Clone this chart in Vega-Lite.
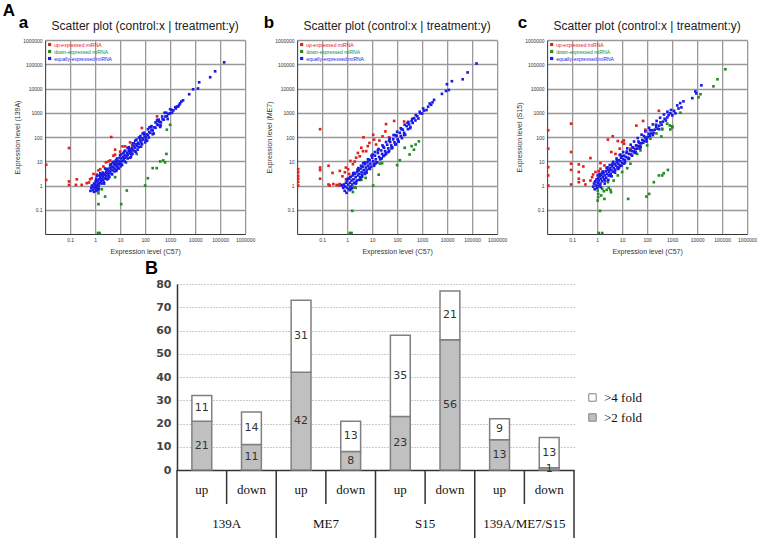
{
  "$schema": "https://vega.github.io/schema/vega-lite/v6.json",
  "padding": {"left": 2, "top": 2, "right": 0, "bottom": 2},
  "background": "white",
  "config": {"view": {"stroke": null}, "font": "Liberation Sans"},
  "datasets": {
    "a": [
      {"s":"u","x":0.011,"y":7.2},{"s":"u","x":0.011,"y":1.7},{"s":"u","x":0.09,"y":35},{"s":"u","x":0.09,"y":1.47},{"s":"u","x":0.09,"y":1.05},{"s":"u","x":0.185,"y":1.8},{"s":"u","x":0.17,"y":1.06},{"s":"u","x":0.29,"y":1.06},{"s":"u","x":0.46,"y":1.25},{"s":"u","x":0.57,"y":1.33},{"s":"u","x":0.73,"y":2.0},{"s":"u","x":0.86,"y":3.0},{"s":"u","x":0.63,"y":1.8},{"s":"u","x":1.36,"y":4.2},{"s":"u","x":1.6,"y":4.7},{"s":"u","x":4.4,"y":100},{"s":"u","x":2.7,"y":9},{"s":"u","x":3.4,"y":9.8},{"s":"u","x":4.0,"y":10.8},{"s":"u","x":5.4,"y":17},{"s":"u","x":6.3,"y":30},{"s":"u","x":12.4,"y":41},{"s":"u","x":15.8,"y":41},{"s":"u","x":25,"y":60},{"s":"u","x":74,"y":235},{"s":"u","x":30,"y":45},{"s":"u","x":300,"y":710},{"s":"u","x":10,"y":25},{"s":"u","x":6.3,"y":18.6},{"s":"u","x":2.15,"y":6.1},{"s":"u","x":1.17,"y":2.8},
      {"s":"d","x":1.1,"y":0.78},{"s":"d","x":1.36,"y":0.62},{"s":"d","x":1.85,"y":0.7},{"s":"d","x":1.36,"y":0.48},{"s":"d","x":2.5,"y":0.35},{"s":"d","x":1.36,"y":0.17},{"s":"d","x":11,"y":0.17},{"s":"d","x":18.5,"y":0.62},{"s":"d","x":6.3,"y":2.2},{"s":"d","x":46,"y":20},{"s":"d","x":128,"y":2.0},{"s":"d","x":200,"y":5.2},{"s":"d","x":290,"y":5.2},{"s":"d","x":400,"y":9.8},{"s":"d","x":530,"y":10.8},{"s":"d","x":630,"y":9},{"s":"d","x":710,"y":20},{"s":"d","x":740,"y":200},{"s":"d","x":1000,"y":320},{"s":"d","x":100,"y":1.0},{"s":"d","x":1.3,"y":0.011},{"s":"d","x":1.5,"y":0.011},
      {"s":"e","x":0.65,"y":0.6},{"s":"e","x":0.7,"y":0.8},{"s":"e","x":0.75,"y":1.0},{"s":"e","x":0.8,"y":0.65},{"s":"e","x":0.85,"y":0.9},{"s":"e","x":0.9,"y":1.2},{"s":"e","x":0.95,"y":0.75},{"s":"e","x":1.0,"y":1.1},{"s":"e","x":1.05,"y":0.85},{"s":"e","x":1.1,"y":1.4},{"s":"e","x":1.15,"y":1.0},{"s":"e","x":1.2,"y":0.9},{"s":"e","x":1.25,"y":1.6},{"s":"e","x":1.3,"y":1.2},{"s":"e","x":1.4,"y":1.0},{"s":"e","x":1.45,"y":1.8},{"s":"e","x":1.5,"y":1.3},{"s":"e","x":1.6,"y":2.2},{"s":"e","x":1.7,"y":1.5},{"s":"e","x":1.8,"y":1.9},{"s":"e","x":1.9,"y":2.6},{"s":"e","x":2.0,"y":1.7},{"s":"e","x":2.1,"y":2.3},{"s":"e","x":2.2,"y":3.0},{"s":"e","x":2.4,"y":2.0},{"s":"e","x":2.5,"y":2.8},{"s":"e","x":2.7,"y":3.5},{"s":"e","x":2.8,"y":2.4},{"s":"e","x":3.0,"y":3.2},{"s":"e","x":3.2,"y":4.3},{"s":"e","x":3.4,"y":2.9},{"s":"e","x":3.6,"y":3.8},{"s":"e","x":3.8,"y":5.2},{"s":"e","x":4.0,"y":3.5},{"s":"e","x":4.3,"y":4.6},{"s":"e","x":4.6,"y":6.0},{"s":"e","x":5.0,"y":4.2},{"s":"e","x":5.3,"y":5.6},{"s":"e","x":5.6,"y":7.4},{"s":"e","x":6.0,"y":5.0},{"s":"e","x":6.5,"y":6.8},{"s":"e","x":7.0,"y":8.8},{"s":"e","x":7.5,"y":6.2},{"s":"e","x":8.0,"y":8.0},{"s":"e","x":8.5,"y":10.5},{"s":"e","x":9.0,"y":7.5},{"s":"e","x":10,"y":9.5},{"s":"e","x":11,"y":13},{"s":"e","x":12,"y":10},{"s":"e","x":13,"y":15},{"s":"e","x":14,"y":12},{"s":"e","x":15,"y":18},{"s":"e","x":16,"y":14},{"s":"e","x":18,"y":16},{"s":"e","x":19,"y":22},{"s":"e","x":20,"y":18},{"s":"e","x":22,"y":26},{"s":"e","x":24,"y":21},{"s":"e","x":26,"y":30},{"s":"e","x":28,"y":25},{"s":"e","x":30,"y":35},{"s":"e","x":33,"y":29},{"s":"e","x":36,"y":42},{"s":"e","x":40,"y":36},{"s":"e","x":44,"y":50},{"s":"e","x":48,"y":44},{"s":"e","x":52,"y":58},{"s":"e","x":58,"y":52},{"s":"e","x":64,"y":72},{"s":"e","x":70,"y":64},{"s":"e","x":78,"y":88},{"s":"e","x":85,"y":78},{"s":"e","x":95,"y":105},{"s":"e","x":105,"y":96},{"s":"e","x":115,"y":128},{"s":"e","x":130,"y":118},{"s":"e","x":145,"y":160},{"s":"e","x":160,"y":150},{"s":"e","x":180,"y":200},{"s":"e","x":200,"y":185},{"s":"e","x":230,"y":250},{"s":"e","x":260,"y":240},{"s":"e","x":300,"y":330},{"s":"e","x":340,"y":310},{"s":"e","x":380,"y":420},{"s":"e","x":430,"y":400},{"s":"e","x":500,"y":540},{"s":"e","x":560,"y":520},{"s":"e","x":650,"y":700},{"s":"e","x":750,"y":720},{"s":"e","x":850,"y":900},{"s":"e","x":1000,"y":950},{"s":"e","x":1150,"y":1300},{"s":"e","x":1350,"y":1250},{"s":"e","x":1600,"y":1700},{"s":"e","x":1900,"y":1800},{"s":"e","x":2100,"y":1800},{"s":"e","x":2500,"y":2450},{"s":"e","x":3300,"y":3240},{"s":"e","x":5800,"y":5800},{"s":"e","x":8300,"y":9300},{"s":"e","x":13000,"y":10000},{"s":"e","x":14500,"y":18000},{"s":"e","x":40000,"y":29000},{"s":"e","x":63000,"y":51000},{"s":"e","x":145000,"y":120000},{"s":"e","x":1.2,"y":2.5},{"s":"e","x":1.6,"y":3.2},{"s":"e","x":2.5,"y":5},{"s":"e","x":3,"y":1.8},{"s":"e","x":5,"y":9},{"s":"e","x":7,"y":4},{"s":"e","x":10,"y":18},{"s":"e","x":12,"y":7},{"s":"e","x":20,"y":35},{"s":"e","x":25,"y":14},{"s":"e","x":40,"y":70},{"s":"e","x":50,"y":30},{"s":"e","x":80,"y":140},{"s":"e","x":100,"y":60},{"s":"e","x":150,"y":250},{"s":"e","x":200,"y":130},{"s":"e","x":300,"y":500},{"s":"e","x":400,"y":260},{"s":"e","x":600,"y":1000},{"s":"e","x":800,"y":550},{"s":"e","x":0.9,"y":0.55},{"s":"e","x":1.1,"y":0.6},
      {"s":"e","x":1.3,"y":0.7},{"s":"e","x":1.8,"y":1.2},{"s":"e","x":2.2,"y":1.4},{"s":"e","x":2.6,"y":1.9},{"s":"e","x":3.5,"y":2.4},{"s":"e","x":4.5,"y":3.0},{"s":"e","x":6,"y":3.8},{"s":"e","x":8,"y":5.5},{"s":"e","x":11,"y":7.5},{"s":"e","x":15,"y":10},{"s":"e","x":20,"y":13},{"s":"e","x":28,"y":19},{"s":"e","x":38,"y":26},{"s":"e","x":55,"y":38},{"s":"e","x":75,"y":50},{"s":"e","x":110,"y":75},{"s":"e","x":1.5,"y":2.6},{"s":"e","x":2.0,"y":3.4},{"s":"e","x":2.8,"y":4.6},{"s":"e","x":4,"y":6.8},{"s":"e","x":5.5,"y":9.5},{"s":"e","x":7.5,"y":13},{"s":"e","x":11,"y":19},{"s":"e","x":15,"y":26},{"s":"e","x":22,"y":38},{"s":"e","x":32,"y":55},{"s":"e","x":45,"y":78},{"s":"e","x":65,"y":110},{"s":"e","x":90,"y":150},{"s":"e","x":130,"y":210},{"s":"e","x":180,"y":280},{"s":"e","x":260,"y":400},{"s":"e","x":350,"y":520},{"s":"e","x":480,"y":700},{"s":"e","x":700,"y":1000},{"s":"e","x":1000,"y":1400},{"s":"e","x":1200,"y":1000},{"s":"e","x":1700,"y":1500},{"s":"e","x":2300,"y":2100},{"s":"e","x":2800,"y":2900},
      {"s":"e","x":1.1,"y":1.9},{"s":"e","x":1.4,"y":0.75},{"s":"e","x":1.7,"y":2.8},{"s":"e","x":2.3,"y":1.2},{"s":"e","x":2.9,"y":4.8},{"s":"e","x":3.3,"y":1.9},{"s":"e","x":4.2,"y":7.5},{"s":"e","x":4.8,"y":2.9},{"s":"e","x":6.8,"y":11},{"s":"e","x":7.2,"y":4.4},{"s":"e","x":9.5,"y":14},{"s":"e","x":10.5,"y":6.2},{"s":"e","x":13.5,"y":22},{"s":"e","x":17,"y":9},{"s":"e","x":23,"y":33},{"s":"e","x":27,"y":15},{"s":"e","x":35,"y":55},{"s":"e","x":42,"y":24},{"s":"e","x":60,"y":90},{"s":"e","x":68,"y":40},{"s":"e","x":90,"y":130},{"s":"e","x":120,"y":70},{"s":"e","x":170,"y":260},{"s":"e","x":220,"y":140},{"s":"e","x":320,"y":450},{"s":"e","x":420,"y":300},{"s":"e","x":1.05,"y":1.5},{"s":"e","x":1.25,"y":0.7},{"s":"e","x":2.05,"y":2.9},{"s":"e","x":3.7,"y":2.2},{"s":"e","x":5.8,"y":8.5},{"s":"e","x":8.8,"y":5.0},{"s":"e","x":16,"y":27},{"s":"e","x":31,"y":20},{"s":"e","x":57,"y":95},{"s":"e","x":140,"y":95}
    ],
    "b": [
      {"s":"u","x":0.011,"y":4.7},{"s":"u","x":0.011,"y":3.5},{"s":"u","x":0.011,"y":2.5},{"s":"u","x":0.011,"y":1.9},{"s":"u","x":0.011,"y":1.4},{"s":"u","x":0.011,"y":1.0},{"s":"u","x":0.083,"y":210},{"s":"u","x":0.083,"y":5.5},{"s":"u","x":0.083,"y":4.3},{"s":"u","x":0.083,"y":1.9},{"s":"u","x":0.18,"y":6.5},{"s":"u","x":0.26,"y":3.3},{"s":"u","x":0.18,"y":1.1},{"s":"u","x":0.28,"y":1.15},{"s":"u","x":0.38,"y":1.05},{"s":"u","x":0.5,"y":1.15},{"s":"u","x":0.6,"y":1.05},{"s":"u","x":0.7,"y":1.0},{"s":"u","x":0.2,"y":1.0},{"s":"u","x":0.45,"y":1.0},{"s":"u","x":0.51,"y":4},{"s":"u","x":0.81,"y":3.5},{"s":"u","x":0.89,"y":5.5},{"s":"u","x":1.1,"y":4.7},{"s":"u","x":1.35,"y":10.3},{"s":"u","x":2,"y":9.7},{"s":"u","x":2.3,"y":14},{"s":"u","x":3.2,"y":16},{"s":"u","x":4.3,"y":26},{"s":"u","x":4.5,"y":97},{"s":"u","x":3.7,"y":36},{"s":"u","x":6.7,"y":42},{"s":"u","x":7.8,"y":57},{"s":"u","x":11,"y":124},{"s":"u","x":12,"y":78},{"s":"u","x":14.4,"y":49},{"s":"u","x":19.5,"y":71},{"s":"u","x":26,"y":106},{"s":"u","x":34,"y":170},{"s":"u","x":36,"y":340},{"s":"u","x":76,"y":460},{"s":"u","x":48,"y":97},{"s":"u","x":190,"y":435},{"s":"u","x":5.8,"y":26},{"s":"u","x":2.7,"y":22},{"s":"u","x":1.7,"y":7.6},{"s":"u","x":0.65,"y":2.4},{"s":"u","x":0.9,"y":1.8},{"s":"u","x":1.2,"y":3.0},
      {"s":"d","x":1.27,"y":0.63},{"s":"d","x":1.7,"y":0.54},{"s":"d","x":2,"y":0.85},{"s":"d","x":2.2,"y":0.8},{"s":"d","x":3.7,"y":1.7},{"s":"d","x":5.5,"y":2.05},{"s":"d","x":18.4,"y":2.8},{"s":"d","x":20.6,"y":8},{"s":"d","x":25,"y":8.3},{"s":"d","x":11,"y":1.0},{"s":"d","x":1.6,"y":0.09},{"s":"d","x":1.27,"y":0.011},{"s":"d","x":1.5,"y":0.011},{"s":"d","x":128,"y":11},{"s":"d","x":100,"y":6.9},{"s":"d","x":200,"y":36},{"s":"d","x":315,"y":19},{"s":"d","x":380,"y":42},{"s":"d","x":470,"y":30},{"s":"d","x":550,"y":49},{"s":"d","x":740,"y":66},
      {"s":"e","x":0.6,"y":1.0},{"s":"e","x":0.7,"y":0.8},{"s":"e","x":0.75,"y":1.1},{"s":"e","x":0.8,"y":0.6},{"s":"e","x":0.85,"y":0.9},{"s":"e","x":0.9,"y":1.3},{"s":"e","x":0.95,"y":0.5},{"s":"e","x":1.0,"y":0.8},{"s":"e","x":1.0,"y":1.6},{"s":"e","x":1.1,"y":1.1},{"s":"e","x":1.15,"y":0.7},{"s":"e","x":1.2,"y":1.9},{"s":"e","x":1.3,"y":1.3},{"s":"e","x":1.35,"y":0.9},{"s":"e","x":1.4,"y":2.3},{"s":"e","x":1.5,"y":1.6},{"s":"e","x":1.6,"y":1.1},{"s":"e","x":1.7,"y":2.6},{"s":"e","x":1.8,"y":1.8},{"s":"e","x":1.9,"y":1.3},{"s":"e","x":2.0,"y":3.0},{"s":"e","x":2.2,"y":2.2},{"s":"e","x":2.4,"y":1.6},{"s":"e","x":2.5,"y":3.5},{"s":"e","x":2.7,"y":2.6},{"s":"e","x":2.9,"y":4.2},{"s":"e","x":3.1,"y":3.0},{"s":"e","x":3.3,"y":2.2},{"s":"e","x":3.5,"y":5.0},{"s":"e","x":3.8,"y":3.6},{"s":"e","x":4.0,"y":2.8},{"s":"e","x":4.3,"y":6.0},{"s":"e","x":4.6,"y":4.4},{"s":"e","x":5.0,"y":3.4},{"s":"e","x":5.3,"y":7.5},{"s":"e","x":5.7,"y":5.5},{"s":"e","x":6.0,"y":4.2},{"s":"e","x":6.5,"y":9.0},{"s":"e","x":7.0,"y":6.6},{"s":"e","x":7.5,"y":5.0},{"s":"e","x":8.0,"y":11},{"s":"e","x":8.5,"y":8.0},{"s":"e","x":9.0,"y":6.0},{"s":"e","x":10,"y":14},{"s":"e","x":11,"y":10},{"s":"e","x":12,"y":7.5},{"s":"e","x":13,"y":17},{"s":"e","x":14,"y":12},{"s":"e","x":15,"y":9},{"s":"e","x":17,"y":22},{"s":"e","x":19,"y":15},{"s":"e","x":21,"y":12},{"s":"e","x":23,"y":28},{"s":"e","x":25,"y":20},{"s":"e","x":28,"y":16},{"s":"e","x":30,"y":36},{"s":"e","x":33,"y":26},{"s":"e","x":36,"y":20},{"s":"e","x":40,"y":48},{"s":"e","x":44,"y":34},{"s":"e","x":48,"y":27},{"s":"e","x":53,"y":62},{"s":"e","x":58,"y":45},{"s":"e","x":64,"y":36},{"s":"e","x":70,"y":80},{"s":"e","x":78,"y":60},{"s":"e","x":85,"y":48},{"s":"e","x":95,"y":110},{"s":"e","x":105,"y":80},{"s":"e","x":115,"y":64},{"s":"e","x":128,"y":150},{"s":"e","x":140,"y":110},{"s":"e","x":155,"y":90},{"s":"e","x":170,"y":200},{"s":"e","x":190,"y":150},{"s":"e","x":210,"y":125},{"s":"e","x":240,"y":280},{"s":"e","x":270,"y":210},{"s":"e","x":300,"y":330},{"s":"e","x":340,"y":260},{"s":"e","x":380,"y":450},{"s":"e","x":420,"y":380},{"s":"e","x":480,"y":600},{"s":"e","x":540,"y":480},{"s":"e","x":640,"y":720},{"s":"e","x":710,"y":580},{"s":"e","x":850,"y":950},{"s":"e","x":1000,"y":930},{"s":"e","x":1200,"y":1230},{"s":"e","x":1740,"y":1780},{"s":"e","x":2300,"y":2130},{"s":"e","x":3000,"y":3400},{"s":"e","x":6200,"y":6000},{"s":"e","x":9000,"y":7900},{"s":"e","x":9800,"y":15000},{"s":"e","x":11700,"y":8700},{"s":"e","x":15500,"y":20000},{"s":"e","x":42000,"y":24000},{"s":"e","x":66000,"y":46000},{"s":"e","x":150000,"y":107000},
      {"s":"e","x":1.6,"y":0.8},{"s":"e","x":2.2,"y":1.2},{"s":"e","x":3,"y":1.7},{"s":"e","x":4,"y":2.3},{"s":"e","x":6,"y":3.4},{"s":"e","x":8,"y":4.8},{"s":"e","x":12,"y":6.5},{"s":"e","x":16,"y":9},{"s":"e","x":24,"y":13},{"s":"e","x":32,"y":18},{"s":"e","x":45,"y":24},{"s":"e","x":60,"y":34},{"s":"e","x":90,"y":52},{"s":"e","x":1.3,"y":2.2},{"s":"e","x":1.9,"y":3.3},{"s":"e","x":2.6,"y":4.5},{"s":"e","x":3.6,"y":6.5},{"s":"e","x":5,"y":9},{"s":"e","x":7,"y":12},{"s":"e","x":9.5,"y":17},{"s":"e","x":13,"y":24},{"s":"e","x":18,"y":32},{"s":"e","x":26,"y":45},{"s":"e","x":36,"y":62},{"s":"e","x":50,"y":85},{"s":"e","x":72,"y":120},{"s":"e","x":100,"y":165},{"s":"e","x":140,"y":230},{"s":"e","x":200,"y":320},{"s":"e","x":280,"y":420},{"s":"e","x":400,"y":560},{"s":"e","x":560,"y":800},{"s":"e","x":800,"y":1100},{"s":"e","x":1100,"y":1500},{"s":"e","x":1500,"y":1300},{"s":"e","x":2000,"y":2400},{"s":"e","x":2600,"y":2700},
      {"s":"e","x":1.05,"y":1.9},{"s":"e","x":1.45,"y":0.7},{"s":"e","x":1.75,"y":3.2},{"s":"e","x":2.3,"y":1.3},{"s":"e","x":2.8,"y":5.2},{"s":"e","x":3.4,"y":1.9},{"s":"e","x":4.4,"y":8.2},{"s":"e","x":5.2,"y":3.0},{"s":"e","x":6.8,"y":12},{"s":"e","x":8.2,"y":5},{"s":"e","x":10.5,"y":19},{"s":"e","x":13.5,"y":8},{"s":"e","x":17,"y":28},{"s":"e","x":22,"y":13},{"s":"e","x":28,"y":40},{"s":"e","x":36,"y":22},{"s":"e","x":48,"y":70},{"s":"e","x":62,"y":38},{"s":"e","x":85,"y":120},{"s":"e","x":110,"y":70},{"s":"e","x":150,"y":210},{"s":"e","x":190,"y":120},{"s":"e","x":260,"y":380},{"s":"e","x":330,"y":230}
    ],
    "c": [
      {"s":"u","x":0.011,"y":190},{"s":"u","x":0.011,"y":33},{"s":"u","x":0.011,"y":5.7},{"s":"u","x":0.011,"y":2.6},{"s":"u","x":0.011,"y":1.0},{"s":"u","x":0.091,"y":355},{"s":"u","x":0.091,"y":24},{"s":"u","x":0.091,"y":7.9},{"s":"u","x":0.091,"y":4.4},{"s":"u","x":0.091,"y":1.1},{"s":"u","x":0.185,"y":7.4},{"s":"u","x":0.185,"y":3.6},{"s":"u","x":0.185,"y":1.9},{"s":"u","x":0.185,"y":1.37},{"s":"u","x":0.28,"y":6.1},{"s":"u","x":0.29,"y":1.6},{"s":"u","x":0.34,"y":1.1},{"s":"u","x":0.54,"y":13.5},{"s":"u","x":0.54,"y":1.6},{"s":"u","x":0.63,"y":2.2},{"s":"u","x":0.69,"y":2.85},{"s":"u","x":0.8,"y":1.37},{"s":"u","x":1.36,"y":8.4},{"s":"u","x":1.36,"y":4.9},{"s":"u","x":0.86,"y":3.6},{"s":"u","x":1.17,"y":3.9},{"s":"u","x":1.96,"y":6.7},{"s":"u","x":2.7,"y":78},{"s":"u","x":3.7,"y":24},{"s":"u","x":4.2,"y":107},{"s":"u","x":6.7,"y":68},{"s":"u","x":5.4,"y":20},{"s":"u","x":8,"y":33},{"s":"u","x":10,"y":62},{"s":"u","x":11.7,"y":72},{"s":"u","x":12,"y":53},{"s":"u","x":21.5,"y":33},{"s":"u","x":37,"y":295},{"s":"u","x":37,"y":45},{"s":"u","x":69,"y":460},{"s":"u","x":85,"y":200},{"s":"u","x":295,"y":1200},{"s":"u","x":8.6,"y":19},{"s":"u","x":2.9,"y":4.2},
      {"s":"d","x":1.0,"y":0.8},{"s":"d","x":1.05,"y":0.62},{"s":"d","x":1.1,"y":0.45},{"s":"d","x":1.1,"y":0.33},{"s":"d","x":1.05,"y":0.24},{"s":"d","x":1.3,"y":0.09},{"s":"d","x":1.6,"y":0.73},{"s":"d","x":1.85,"y":0.58},{"s":"d","x":2.4,"y":0.66},{"s":"d","x":2.9,"y":0.8},{"s":"d","x":3.4,"y":0.66},{"s":"d","x":3.6,"y":0.53},{"s":"d","x":1.96,"y":0.28},{"s":"d","x":1.45,"y":0.39},{"s":"d","x":2.7,"y":1.37},{"s":"d","x":4.6,"y":1.6},{"s":"d","x":6.7,"y":2.6},{"s":"d","x":10,"y":3.6},{"s":"d","x":16,"y":5.2},{"s":"d","x":21.5,"y":7.9},{"s":"d","x":17.4,"y":0.28},{"s":"d","x":94,"y":0.35},{"s":"d","x":120,"y":0.45},{"s":"d","x":185,"y":1.37},{"s":"d","x":295,"y":2.6},{"s":"d","x":400,"y":2.6},{"s":"d","x":460,"y":3.2},{"s":"d","x":680,"y":4.4},{"s":"d","x":40,"y":20},{"s":"d","x":54,"y":28},{"s":"d","x":100,"y":45},{"s":"d","x":135,"y":85},{"s":"d","x":235,"y":140},{"s":"d","x":400,"y":220},{"s":"d","x":630,"y":355},{"s":"d","x":1000,"y":275},{"s":"d","x":2150,"y":1000},{"s":"d","x":1.17,"y":0.011},{"s":"d","x":1.6,"y":0.011},{"s":"d","x":11300,"y":4350},{"s":"d","x":13600,"y":5800},{"s":"d","x":45000,"y":12300},{"s":"d","x":65000,"y":24000},{"s":"d","x":135000,"y":62000},{"s":"d","x":1020,"y":250},{"s":"d","x":800,"y":300},{"s":"d","x":850,"y":205},{"s":"d","x":400,"y":205},{"s":"d","x":370,"y":105},
      {"s":"e","x":0.7,"y":0.9},{"s":"e","x":0.75,"y":1.2},{"s":"e","x":0.8,"y":0.7},{"s":"e","x":0.85,"y":1.5},{"s":"e","x":0.9,"y":1.0},{"s":"e","x":0.95,"y":1.8},{"s":"e","x":1.0,"y":0.8},{"s":"e","x":1.05,"y":1.3},{"s":"e","x":1.1,"y":2.0},{"s":"e","x":1.15,"y":1.0},{"s":"e","x":1.2,"y":1.6},{"s":"e","x":1.3,"y":2.4},{"s":"e","x":1.35,"y":1.2},{"s":"e","x":1.4,"y":1.9},{"s":"e","x":1.5,"y":2.8},{"s":"e","x":1.6,"y":1.5},{"s":"e","x":1.7,"y":2.2},{"s":"e","x":1.8,"y":3.2},{"s":"e","x":1.9,"y":1.8},{"s":"e","x":2.0,"y":2.6},{"s":"e","x":2.2,"y":3.8},{"s":"e","x":2.3,"y":2.1},{"s":"e","x":2.5,"y":3.0},{"s":"e","x":2.7,"y":4.4},{"s":"e","x":2.9,"y":2.6},{"s":"e","x":3.0,"y":3.6},{"s":"e","x":3.3,"y":5.2},{"s":"e","x":3.5,"y":3.0},{"s":"e","x":3.7,"y":4.3},{"s":"e","x":4.0,"y":6.2},{"s":"e","x":4.3,"y":3.7},{"s":"e","x":4.6,"y":5.2},{"s":"e","x":5.0,"y":7.5},{"s":"e","x":5.3,"y":4.5},{"s":"e","x":5.7,"y":6.5},{"s":"e","x":6.0,"y":9.0},{"s":"e","x":6.5,"y":5.5},{"s":"e","x":7.0,"y":8.0},{"s":"e","x":7.5,"y":11},{"s":"e","x":8.0,"y":6.8},{"s":"e","x":8.5,"y":10},{"s":"e","x":9.0,"y":14},{"s":"e","x":10,"y":8.5},{"s":"e","x":11,"y":12},{"s":"e","x":12,"y":17},{"s":"e","x":13,"y":11},{"s":"e","x":14,"y":15},{"s":"e","x":15,"y":22},{"s":"e","x":17,"y":14},{"s":"e","x":19,"y":20},{"s":"e","x":21,"y":28},{"s":"e","x":23,"y":19},{"s":"e","x":25,"y":26},{"s":"e","x":28,"y":36},{"s":"e","x":30,"y":25},{"s":"e","x":33,"y":32},{"s":"e","x":36,"y":45},{"s":"e","x":40,"y":33},{"s":"e","x":44,"y":42},{"s":"e","x":48,"y":58},{"s":"e","x":53,"y":44},{"s":"e","x":58,"y":55},{"s":"e","x":64,"y":75},{"s":"e","x":70,"y":58},{"s":"e","x":78,"y":70},{"s":"e","x":85,"y":95},{"s":"e","x":95,"y":80},{"s":"e","x":105,"y":100},{"s":"e","x":115,"y":135},{"s":"e","x":130,"y":110},{"s":"e","x":145,"y":140},{"s":"e","x":160,"y":190},{"s":"e","x":180,"y":150},{"s":"e","x":200,"y":200},{"s":"e","x":230,"y":260},{"s":"e","x":260,"y":220},{"s":"e","x":300,"y":290},{"s":"e","x":340,"y":400},{"s":"e","x":380,"y":320},{"s":"e","x":430,"y":430},{"s":"e","x":500,"y":560},{"s":"e","x":560,"y":480},{"s":"e","x":640,"y":640},{"s":"e","x":720,"y":800},{"s":"e","x":850,"y":950},{"s":"e","x":1020,"y":780},{"s":"e","x":1350,"y":950},{"s":"e","x":1800,"y":1500},{"s":"e","x":2350,"y":1660},{"s":"e","x":2840,"y":2950},{"s":"e","x":6400,"y":4000},{"s":"e","x":8500,"y":7600},{"s":"e","x":9300,"y":6300},{"s":"e","x":14800,"y":13500},
      {"s":"e","x":1.4,"y":0.85},{"s":"e","x":2,"y":1.2},{"s":"e","x":2.8,"y":1.7},{"s":"e","x":3.8,"y":2.4},{"s":"e","x":5.2,"y":3.4},{"s":"e","x":7,"y":4.8},{"s":"e","x":9.5,"y":6.5},{"s":"e","x":13,"y":9},{"s":"e","x":18,"y":12.5},{"s":"e","x":25,"y":17},{"s":"e","x":35,"y":24},{"s":"e","x":50,"y":34},{"s":"e","x":1.25,"y":3.0},{"s":"e","x":1.7,"y":3.8},{"s":"e","x":2.4,"y":5.2},{"s":"e","x":3.2,"y":7},{"s":"e","x":4.4,"y":9.5},{"s":"e","x":6,"y":13},{"s":"e","x":8,"y":18},{"s":"e","x":11,"y":24},{"s":"e","x":16,"y":34},{"s":"e","x":22,"y":48},{"s":"e","x":30,"y":65},{"s":"e","x":42,"y":90},{"s":"e","x":60,"y":125},{"s":"e","x":85,"y":170},{"s":"e","x":120,"y":240},{"s":"e","x":170,"y":330},{"s":"e","x":240,"y":460},{"s":"e","x":330,"y":620},{"s":"e","x":470,"y":850},{"s":"e","x":650,"y":1100},{"s":"e","x":900,"y":1300},{"s":"e","x":1200,"y":1200},{"s":"e","x":1600,"y":2000},{"s":"e","x":2100,"y":2500},
      {"s":"e","x":1.05,"y":2.6},{"s":"e","x":1.3,"y":0.95},{"s":"e","x":1.6,"y":3.4},{"s":"e","x":2.1,"y":1.6},{"s":"e","x":2.6,"y":5.6},{"s":"e","x":3.2,"y":2.5},{"s":"e","x":4.1,"y":7.8},{"s":"e","x":4.9,"y":3.7},{"s":"e","x":6.2,"y":11},{"s":"e","x":7.6,"y":5.6},{"s":"e","x":9.8,"y":16},{"s":"e","x":12,"y":8},{"s":"e","x":15.5,"y":25},{"s":"e","x":19,"y":13},{"s":"e","x":26,"y":38},{"s":"e","x":32,"y":22},{"s":"e","x":45,"y":65},{"s":"e","x":55,"y":38},{"s":"e","x":75,"y":110},{"s":"e","x":95,"y":65},{"s":"e","x":130,"y":190},{"s":"e","x":170,"y":120},{"s":"e","x":230,"y":320},{"s":"e","x":300,"y":210}
    ],
    "bars": [
      {"group":"139A","dir":"up","fold":">2 fold","n":21},{"group":"139A","dir":"up","fold":">4 fold","n":11},
      {"group":"139A","dir":"down","fold":">2 fold","n":11},{"group":"139A","dir":"down","fold":">4 fold","n":14},
      {"group":"ME7","dir":"up","fold":">2 fold","n":42},{"group":"ME7","dir":"up","fold":">4 fold","n":31},
      {"group":"ME7","dir":"down","fold":">2 fold","n":8},{"group":"ME7","dir":"down","fold":">4 fold","n":13},
      {"group":"S15","dir":"up","fold":">2 fold","n":23},{"group":"S15","dir":"up","fold":">4 fold","n":35},
      {"group":"S15","dir":"down","fold":">2 fold","n":56},{"group":"S15","dir":"down","fold":">4 fold","n":21},
      {"group":"139A/ME7/S15","dir":"up","fold":">2 fold","n":13},{"group":"139A/ME7/S15","dir":"up","fold":">4 fold","n":9},
      {"group":"139A/ME7/S15","dir":"down","fold":">2 fold","n":1},{"group":"139A/ME7/S15","dir":"down","fold":">4 fold","n":13}
    ]
  },
  "spacing": 6,
  "center": true,
  "vconcat": [
    {
      "title": {"text": "A", "anchor": "start", "frame": "bounds", "dx": -11, "offset": -6, "fontSize": 17, "fontWeight": "bold", "color": "#000"},
      "spacing": 8,
      "resolve": {"scale": {"color": "independent"}, "legend": {"color": "independent"}},
      "hconcat": [
        {
          "title": {"text": "a", "anchor": "start", "frame": "bounds", "dx": 5, "offset": -12, "fontSize": 17, "fontWeight": "bold", "color": "#000"},
          "resolve": {"scale": {"color": "independent"}, "legend": {"color": "independent"}},
          "hconcat": [
            {
              "width": 200, "height": 194,
              "title": {"text": "Scatter plot (control:x | treatment:y)", "fontSize": 12, "fontWeight": "normal", "color": "#222", "offset": 5},
              "data": {"name": "a"},
              "mark": {"type": "square", "size": 7, "opacity": 1},
              "encoding": {
                "x": {"field": "x", "type": "quantitative", "scale": {"type": "log", "domain": [0.01, 1000000], "nice": false},
                  "axis": {"values": [0.1,1,10,100,1000,10000,100000,1000000], "tickCount": 20, "labelExpr": "datum.value < 1 ? '0.1' : format(datum.value, 'd')", "labelFontSize": 5, "labelColor": "#333", "labelFlush": false, "labelOverlap": false, "labelPadding": 3, "ticks": false, "grid": true, "gridColor": "#999", "gridWidth": 1.3, "domainColor": "#333", "title": "Expression level (C57)", "titleFontSize": 7, "titleFontWeight": "normal", "titleColor": "#333", "titlePadding": 5}},
                "y": {"field": "y", "type": "quantitative", "scale": {"type": "log", "domain": [0.01, 1000000], "nice": false},
                  "axis": {"values": [0.1,1,10,100,1000,10000,100000,1000000], "tickCount": 20, "labelExpr": "datum.value < 1 ? '0.1' : format(datum.value, 'd')", "labelFontSize": 5, "labelColor": "#333", "labelFlush": false, "labelOverlap": false, "labelPadding": 3, "ticks": false, "grid": true, "gridColor": "#999", "gridWidth": 1.3, "domainColor": "#333", "title": "Expression level (139A)", "titleFontSize": 7, "titleFontWeight": "normal", "titleColor": "#333", "titlePadding": 2}},
                "color": {"field": "s", "type": "nominal", "scale": {"domain": ["u","d","e"], "range": ["#e3211c","#228b22","#1a1ae6"]},
                  "legend": {"orient": "top-left", "offset": 2, "title": null, "symbolType": "square", "symbolSize": 10, "symbolStrokeWidth": 0, "labelFontSize": 5, "labelOffset": 2, "rowPadding": 1, "padding": 0, "labelExpr": "datum.value == 'u' ? 'up-expressed miRNA' : datum.value == 'd' ? 'down-expressed miRNA' : 'equally-expressed miRNA'", "labelColor": {"expr": "datum.value == 'u' ? '#e3211c' : datum.value == 'd' ? '#228b22' : '#1a1ae6'"}}}
              }
            }
          ]
        },
        {
          "title": {"text": "b", "anchor": "start", "frame": "bounds", "dx": -2, "offset": -12, "fontSize": 17, "fontWeight": "bold", "color": "#000"},
          "resolve": {"scale": {"color": "independent"}, "legend": {"color": "independent"}},
          "hconcat": [
            {
              "width": 200, "height": 194,
              "title": {"text": "Scatter plot (control:x | treatment:y)", "fontSize": 12, "fontWeight": "normal", "color": "#222", "offset": 5},
              "data": {"name": "b"},
              "mark": {"type": "square", "size": 7, "opacity": 1},
              "encoding": {
                "x": {"field": "x", "type": "quantitative", "scale": {"type": "log", "domain": [0.01, 1000000], "nice": false},
                  "axis": {"values": [0.1,1,10,100,1000,10000,100000,1000000], "tickCount": 20, "labelExpr": "datum.value < 1 ? '0.1' : format(datum.value, 'd')", "labelFontSize": 5, "labelColor": "#333", "labelFlush": false, "labelOverlap": false, "labelPadding": 3, "ticks": false, "grid": true, "gridColor": "#999", "gridWidth": 1.3, "domainColor": "#333", "title": "Expression level (C57)", "titleFontSize": 7, "titleFontWeight": "normal", "titleColor": "#333", "titlePadding": 5}},
                "y": {"field": "y", "type": "quantitative", "scale": {"type": "log", "domain": [0.01, 1000000], "nice": false},
                  "axis": {"values": [0.1,1,10,100,1000,10000,100000,1000000], "tickCount": 20, "labelExpr": "datum.value < 1 ? '0.1' : format(datum.value, 'd')", "labelFontSize": 5, "labelColor": "#333", "labelFlush": false, "labelOverlap": false, "labelPadding": 3, "ticks": false, "grid": true, "gridColor": "#999", "gridWidth": 1.3, "domainColor": "#333", "title": "Expression level (ME7)", "titleFontSize": 7, "titleFontWeight": "normal", "titleColor": "#333", "titlePadding": 2}},
                "color": {"field": "s", "type": "nominal", "scale": {"domain": ["u","d","e"], "range": ["#e3211c","#228b22","#1a1ae6"]},
                  "legend": {"orient": "top-left", "offset": 2, "title": null, "symbolType": "square", "symbolSize": 10, "symbolStrokeWidth": 0, "labelFontSize": 5, "labelOffset": 2, "rowPadding": 1, "padding": 0, "labelExpr": "datum.value == 'u' ? 'up-expressed miRNA' : datum.value == 'd' ? 'down-expressed miRNA' : 'equally-expressed miRNA'", "labelColor": {"expr": "datum.value == 'u' ? '#e3211c' : datum.value == 'd' ? '#228b22' : '#1a1ae6'"}}}
              }
            }
          ]
        },
        {
          "title": {"text": "c", "anchor": "start", "frame": "bounds", "dx": 2, "offset": -12, "fontSize": 17, "fontWeight": "bold", "color": "#000"},
          "resolve": {"scale": {"color": "independent"}, "legend": {"color": "independent"}},
          "hconcat": [
            {
              "width": 200, "height": 194,
              "title": {"text": "Scatter plot (control:x | treatment:y)", "fontSize": 12, "fontWeight": "normal", "color": "#222", "offset": 5},
              "data": {"name": "c"},
              "mark": {"type": "square", "size": 7, "opacity": 1},
              "encoding": {
                "x": {"field": "x", "type": "quantitative", "scale": {"type": "log", "domain": [0.01, 1000000], "nice": false},
                  "axis": {"values": [0.1,1,10,100,1000,10000,100000,1000000], "tickCount": 20, "labelExpr": "datum.value < 1 ? '0.1' : format(datum.value, 'd')", "labelFontSize": 5, "labelColor": "#333", "labelFlush": false, "labelOverlap": false, "labelPadding": 3, "ticks": false, "grid": true, "gridColor": "#999", "gridWidth": 1.3, "domainColor": "#333", "title": "Expression level (C57)", "titleFontSize": 7, "titleFontWeight": "normal", "titleColor": "#333", "titlePadding": 5}},
                "y": {"field": "y", "type": "quantitative", "scale": {"type": "log", "domain": [0.01, 1000000], "nice": false},
                  "axis": {"values": [0.1,1,10,100,1000,10000,100000,1000000], "tickCount": 20, "labelExpr": "datum.value < 1 ? '0.1' : format(datum.value, 'd')", "labelFontSize": 5, "labelColor": "#333", "labelFlush": false, "labelOverlap": false, "labelPadding": 3, "ticks": false, "grid": true, "gridColor": "#999", "gridWidth": 1.3, "domainColor": "#333", "title": "Expression level (S15)", "titleFontSize": 7, "titleFontWeight": "normal", "titleColor": "#333", "titlePadding": 2}},
                "color": {"field": "s", "type": "nominal", "scale": {"domain": ["u","d","e"], "range": ["#e3211c","#228b22","#1a1ae6"]},
                  "legend": {"orient": "top-left", "offset": 2, "title": null, "symbolType": "square", "symbolSize": 10, "symbolStrokeWidth": 0, "labelFontSize": 5, "labelOffset": 2, "rowPadding": 1, "padding": 0, "labelExpr": "datum.value == 'u' ? 'up-expressed miRNA' : datum.value == 'd' ? 'down-expressed miRNA' : 'equally-expressed miRNA'", "labelColor": {"expr": "datum.value == 'u' ? '#e3211c' : datum.value == 'd' ? '#228b22' : '#1a1ae6'"}}}
              }
            }
          ]
        }
      ]
    },
    {
      "width": 397, "height": 186,
      "title": {"text": "B", "anchor": "start", "frame": "group", "dx": -32, "offset": 0, "fontSize": 18, "fontWeight": "bold", "color": "#000"},
      "data": {"name": "bars"},
      "transform": [
        {"calculate": "datum.group + ' ' + datum.dir", "as": "bar"},
        {"stack": "n", "groupby": ["bar"], "sort": [{"field": "fold", "order": "ascending"}], "as": ["y0", "y1"]},
        {"calculate": "(datum.y0 + datum.y1) / 2", "as": "ym"}
      ],
      "layer": [
        {
          "mark": {"type": "bar", "width": {"band": 0.4}, "stroke": "#808080", "strokeWidth": 1.5},
          "encoding": {
            "x": {"field": "bar", "type": "nominal", "sort": null, "scale": {"paddingInner": 0, "paddingOuter": 0},
              "axis": {"labels": false, "ticks": false, "title": null, "domainColor": "#333", "domainWidth": 1.5}},
            "y": {"field": "y0", "type": "quantitative", "scale": {"domain": [0, 80], "nice": false},
              "axis": {"values": [0,10,20,30,40,50,60,70,80], "tickCount": 20, "title": null, "ticks": true, "tickSize": -448, "tickOpacity": 0, "tickWidth": 1, "grid": true, "gridColor": "#999", "gridDash": [1, 2], "gridWidth": 1, "domainColor": "#333", "domainWidth": 1.5, "labelFont": "DejaVu Sans", "labelFontSize": 11, "labelFontWeight": "bold", "labelColor": "#444", "labelPadding": 454, "labelOverlap": false}},
            "y2": {"field": "y1"},
            "color": {"field": "fold", "type": "nominal", "scale": {"domain": [">4 fold", ">2 fold"], "range": ["#ffffff", "#c0c0c0"]},
              "legend": {"orient": "none", "legendX": 541, "legendY": 351, "title": null, "symbolType": "square", "symbolSize": 55, "symbolStrokeColor": "#808080", "symbolStrokeWidth": 1, "labelFont": "Liberation Serif", "labelFontSize": 13, "labelColor": "#111", "rowPadding": 6, "labelOffset": 5}}
          }
        },
        {
          "mark": {"type": "text", "font": "DejaVu Sans", "fontSize": 11, "color": "#333"},
          "encoding": {
            "x": {"field": "bar", "type": "nominal", "sort": null},
            "y": {"field": "ym", "type": "quantitative"},
            "text": {"field": "n"}
          }
        },
        {
          "transform": [{"filter": "datum.fold == '>2 fold' && datum.dir == 'down'"}],
          "mark": {"type": "rule", "color": "#333", "strokeWidth": 1.5},
          "encoding": {
            "x": {"field": "bar", "type": "nominal", "sort": null, "bandPosition": 0},
            "y": {"datum": 0, "type": "quantitative"},
            "y2": {"datum": -14.6}
          }
        },
        {
          "transform": [{"filter": "datum.fold == '>2 fold' && datum.dir == 'up'"}],
          "mark": {"type": "rule", "color": "#333", "strokeWidth": 1.5},
          "encoding": {
            "x": {"field": "bar", "type": "nominal", "sort": null, "bandPosition": 0},
            "y": {"datum": 0, "type": "quantitative"},
            "y2": {"datum": -29.2}
          }
        },
        {
          "transform": [{"filter": "datum.fold == '>2 fold' && datum.group == '139A/ME7/S15' && datum.dir == 'down'"}],
          "mark": {"type": "rule", "color": "#333", "strokeWidth": 1.5},
          "encoding": {
            "x": {"field": "bar", "type": "nominal", "sort": null, "bandPosition": 1},
            "y": {"datum": 0, "type": "quantitative"},
            "y2": {"datum": -29.2}
          }
        },
        {
          "transform": [{"filter": "datum.fold == '>2 fold'"}],
          "mark": {"type": "text", "font": "Liberation Serif", "fontSize": 13, "color": "#111"},
          "encoding": {
            "x": {"field": "bar", "type": "nominal", "sort": null},
            "y": {"datum": -8.6, "type": "quantitative"},
            "text": {"field": "dir"}
          }
        },
        {
          "transform": [{"filter": "datum.fold == '>2 fold' && datum.dir == 'up'"}],
          "mark": {"type": "text", "font": "Liberation Serif", "fontSize": 13, "color": "#111"},
          "encoding": {
            "x": {"field": "bar", "type": "nominal", "sort": null, "bandPosition": 1},
            "y": {"datum": -23.4, "type": "quantitative"},
            "text": {"field": "group"}
          }
        }
      ]
    }
  ]
}
